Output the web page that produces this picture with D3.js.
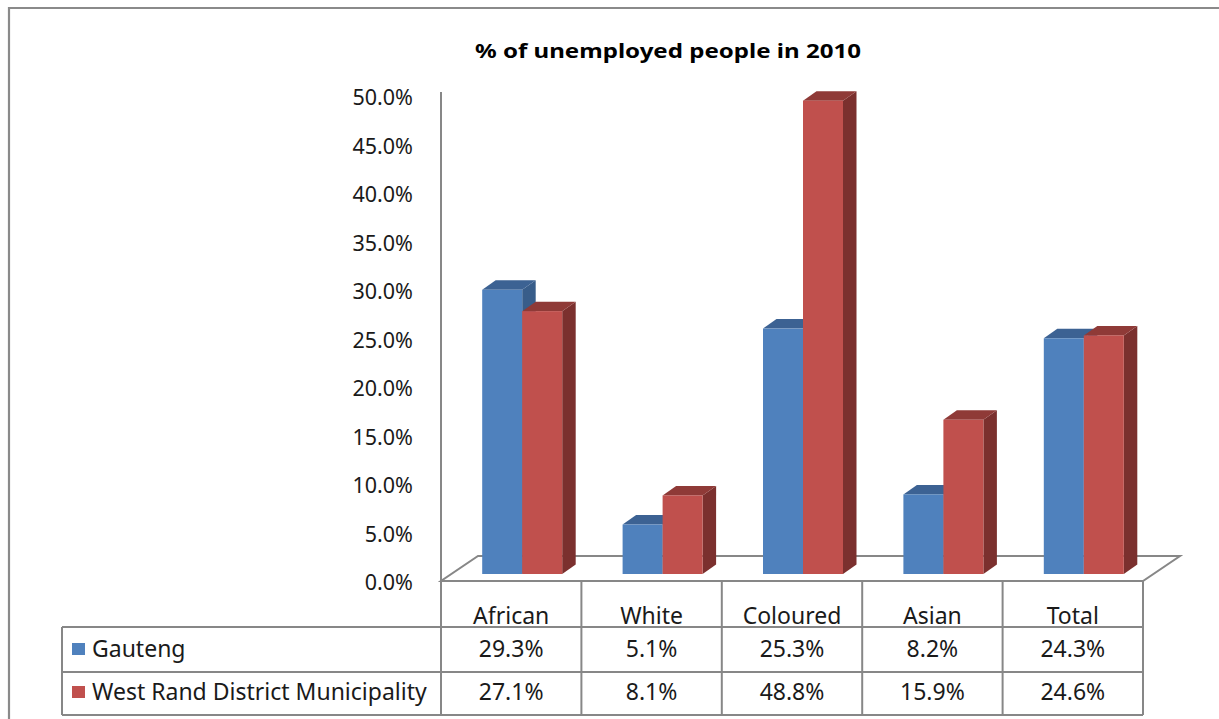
<!DOCTYPE html>
<html>
<head>
<meta charset="utf-8">
<script src="https://cdnjs.cloudflare.com/ajax/libs/d3/7.8.5/d3.min.js"></script>
<style>
  html, body { margin: 0; padding: 0; background: #fff; }
  svg { display: block; }
  text { font-family: "Noto Sans", "DejaVu Sans", sans-serif; fill: #1a1a1a; }
</style>
</head>
<body>
<svg id="chart" width="1219" height="719"></svg>
<script>
// Unemployment rate by population group, 2010
const categories = ["African", "White", "Coloured", "Asian", "Total"];
const seriesNames = ["Gauteng", "West Rand District Municipality"];
const gauteng = [29.3, 5.1, 25.3, 8.2, 24.3];
const westRand = [27.1, 8.1, 48.8, 15.9, 24.6];
const yTicks = [0, 5, 10, 15, 20, 25, 30, 35, 40, 45, 50];
const titleText = "% of unemployed people in 2010";

const seriesValues = [gauteng, westRand];
const palette = [
  { front: "#4f81bd", top: "#3c6293", side: "#385d8a" },
  { front: "#c0504d", top: "#8f3a37", side: "#7b302e" }
];

const svg = d3.select("#chart");
const gridColor = "#878787";

// plot geometry
const plotLeft = 441, plotRight = 1143;
const floorY = 581;
const floorDepth = { dx: 37, dy: -25 };
const barShift = { dx: 11, dy: -7 };     // front face of the columns sits inside the floor
const barDepth = { dx: 13.5, dy: -9.5 }; // column thickness

const x0 = d3.scaleBand().domain(categories).range([plotLeft, plotRight]).padding(0);
const groupWidth = 80;
const x1 = d3.scaleBand().domain(seriesNames)
  .range([(x0.bandwidth() - groupWidth) / 2, (x0.bandwidth() + groupWidth) / 2]).padding(0);
const y = d3.scaleLinear().domain([0, 50]).range([floorY, floorY - 485]);

// outer frame
svg.append("path")
  .attr("d", "M9,725 L9,8 L1225,8")
  .attr("fill", "none").attr("stroke", "#8a8a8a").attr("stroke-width", 2.2);

// title
svg.append("text")
  .attr("x", 668).attr("y", 58)
  .attr("text-anchor", "middle")
  .attr("font-family", "'DejaVu Sans', sans-serif")
  .attr("font-weight", "bold")
  .attr("font-size", 19)
  .attr("textLength", 386).attr("lengthAdjust", "spacingAndGlyphs")
  .style("fill", "#000")
  .text(titleText);

// floor
const fl = [
  [plotLeft, floorY],
  [plotRight, floorY],
  [plotRight + floorDepth.dx, floorY + floorDepth.dy],
  [plotLeft + floorDepth.dx, floorY + floorDepth.dy]
];
svg.append("path")
  .attr("d", d3.line()(fl) + "Z")
  .attr("fill", "#fff").attr("stroke", gridColor).attr("stroke-width", 2);

// value axis
const axis = d3.axisLeft(d3.scaleLinear().domain([0, 50]).range([floorY + 2, floorY + 2 - 485]))
  .tickValues(yTicks)
  .tickSize(0)
  .tickPadding(28)
  .tickFormat(d => d3.format(".1%")(d / 100));
const gAxis = svg.append("g").attr("transform", `translate(${plotLeft},0)`).call(axis);
gAxis.select(".domain").remove();
gAxis.selectAll("text")
  .attr("font-family", "'Noto Sans', sans-serif")
  .attr("font-size", 21.5)
  .style("fill", "#1a1a1a");

// columns
const bars = svg.append("g");
seriesNames.forEach((name, j) => {
  const c = palette[j];
  categories.forEach((cat, i) => {
    const v = seriesValues[j][i];
    const xl = x0(cat) + x1(name) + barShift.dx;
    const xr = xl + x1.bandwidth();
    const yb = y(0) + barShift.dy;
    const yt = y(v) + barShift.dy;
    const g = bars.append("g");
    // right side face
    g.append("path")
      .attr("d", d3.line()([[xr, yb], [xr, yt], [xr + barDepth.dx, yt + barDepth.dy], [xr + barDepth.dx, yb + barDepth.dy]]) + "Z")
      .attr("fill", c.side);
    // top face
    g.append("path")
      .attr("d", d3.line()([[xl, yt], [xr, yt], [xr + barDepth.dx, yt + barDepth.dy], [xl + barDepth.dx, yt + barDepth.dy]]) + "Z")
      .attr("fill", c.top);
    // front face
    g.append("rect")
      .attr("x", xl).attr("y", yt)
      .attr("width", x1.bandwidth()).attr("height", yb - yt)
      .attr("fill", c.front);
  });
});

// data table
const tableLeft = 62;
const rowLines = [627, 672, 715];
const table = svg.append("g").attr("stroke", gridColor).attr("stroke-width", 2).attr("fill", "none");
rowLines.forEach(ry => {
  table.append("line").attr("x1", tableLeft).attr("x2", plotRight).attr("y1", ry).attr("y2", ry);
});
table.append("line").attr("x1", tableLeft).attr("x2", tableLeft).attr("y1", 627).attr("y2", 715);
// value axis line running down into the table
table.append("line").attr("x1", plotLeft).attr("x2", plotLeft).attr("y1", 92).attr("y2", 715);
categories.forEach(cat => {
  const xe = x0(cat) + x0.bandwidth();
  table.append("line").attr("x1", xe).attr("x2", xe).attr("y1", floorY).attr("y2", 715);
});

const fmt = d => d3.format(".1f")(d) + "%";
const cellFont = 23;
// header
svg.append("g").selectAll("text").data(categories).join("text")
  .attr("x", d => x0(d) + x0.bandwidth() / 2)
  .attr("y", 624)
  .attr("text-anchor", "middle")
  .attr("font-size", cellFont)
  .text(d => d);

const rowBaselines = [657, 700];
seriesNames.forEach((name, j) => {
  const g = svg.append("g");
  g.append("rect")
    .attr("x", 72).attr("y", rowBaselines[j] - 14)
    .attr("width", 13).attr("height", 12)
    .attr("fill", palette[j].front);
  g.append("text")
    .attr("x", 92).attr("y", rowBaselines[j])
    .attr("font-size", cellFont)
    .text(name);
  g.selectAll("text.v").data(seriesValues[j]).join("text")
    .attr("class", "v")
    .attr("x", (d, i) => x0(categories[i]) + x0.bandwidth() / 2)
    .attr("y", rowBaselines[j])
    .attr("text-anchor", "middle")
    .attr("font-size", cellFont)
    .text(d => fmt(d));
});
</script>
</body>
</html>
